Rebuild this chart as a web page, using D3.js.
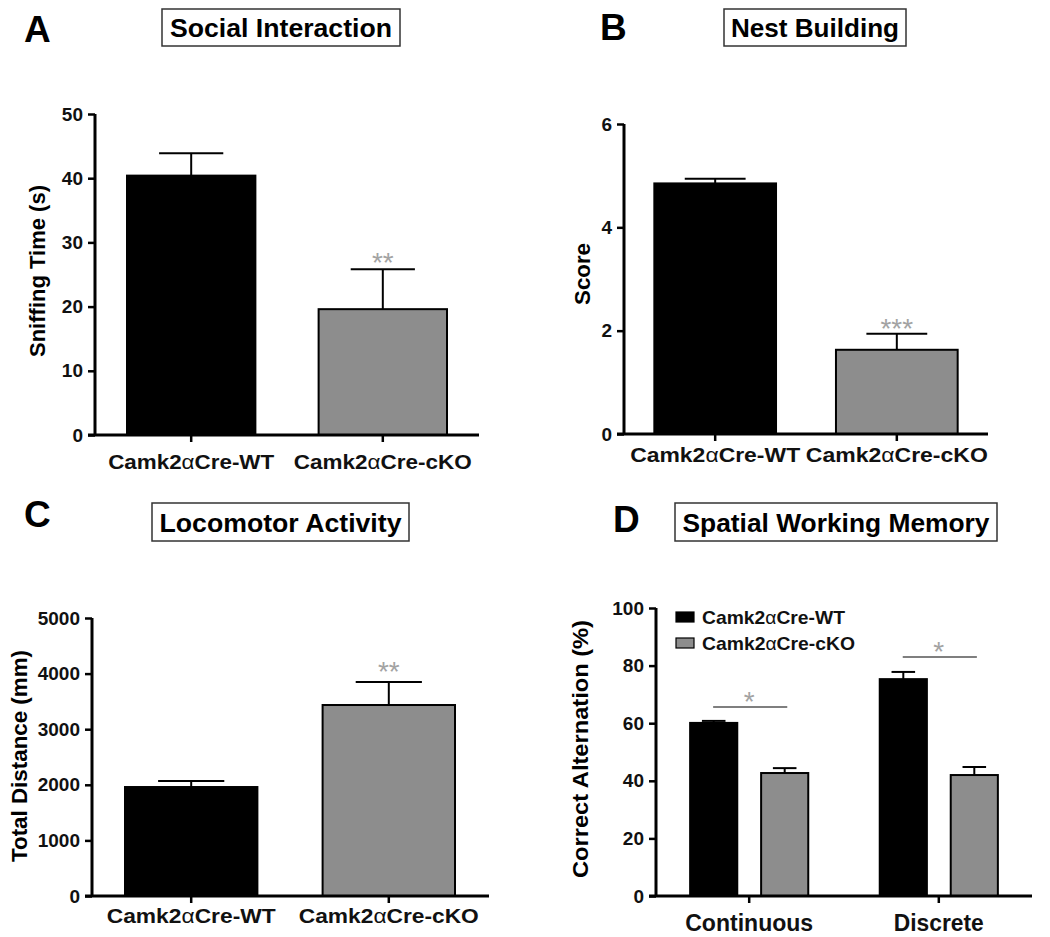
<!DOCTYPE html>
<html><head><meta charset="utf-8">
<script src="https://cdn.jsdelivr.net/npm/d3@7"></script>
<style>
html,body{margin:0;padding:0;background:#fff;}
svg{display:block;font-family:"Liberation Sans",Arial,sans-serif;}
</style></head>
<body>
<svg id="chart" width="1050" height="937"></svg>
<script>
// ---------- DATA ----------
const genotypes = ["Camk2αCre-WT", "Camk2αCre-cKO"];
const socialMean = [40.4, 19.6];
const socialSem  = [3.5, 6.2];
const socialStars = ["", "**"];
const socialTicks = [0, 10, 20, 30, 40, 50];

const nestMean = [4.85, 1.63];
const nestSem  = [0.09, 0.31];
const nestStars = ["", "***"];
const nestTicks = [0, 2, 4, 6];

const locoMean = [1960, 3435];
const locoSem  = [108, 414];
const locoStars = ["", "**"];
const locoTicks = [0, 1000, 2000, 3000, 4000, 5000];

const memCategories = ["Continuous", "Discrete"];
const memWTMean = [60.1, 75.3];
const memWTSem  = [0.7, 2.5];
const memKOMean = [42.7, 42.0];
const memKOSem  = [1.7, 2.8];
const memSigLevel = [65.6, 83];
const memStars = ["*", "*"];
const memTicks = [0, 20, 40, 60, 80, 100];

const fills = {"Camk2αCre-WT": "#000000", "Camk2αCre-cKO": "#8d8d8d"};

// ---------- HELPERS ----------
const svg = d3.select("#chart");
const FONT = "'Liberation Sans', Arial, sans-serif";

function genoText(sel, label) {
  const parts = label.split("α");
  sel.append("tspan").text(parts[0]);
  sel.append("tspan").attr("font-weight", "normal").text("α");
  sel.append("tspan").text(parts[1]);
}

function panelLetter(letter, x, y) {
  svg.append("text").attr("x", x).attr("y", y)
    .attr("font-size", 37).attr("font-weight", "bold").attr("fill", "#000")
    .text(letter);
}

function titleBox(text, x0, x1, y0, y1, tw) {
  svg.append("rect").attr("x", x0).attr("y", y0)
    .attr("width", x1 - x0).attr("height", y1 - y0)
    .attr("fill", "#fff").attr("stroke", "#333").attr("stroke-width", 1.5);
  svg.append("text").attr("x", (x0 + x1) / 2).attr("y", (y0 + y1) / 2 + 9.5)
    .attr("text-anchor", "middle").attr("font-size", 26).attr("font-weight", "bold")
    .attr("textLength", tw).attr("lengthAdjust", "spacingAndGlyphs")
    .text(text);
}

function yAxis(g, y, ticks) {
  const ax = d3.axisLeft(y).tickValues(ticks).tickSize(7).tickPadding(5).tickFormat(d3.format("d"));
  const a = g.append("g").call(ax);
  a.select(".domain").attr("stroke", "#000").attr("stroke-width", 3)
    .attr("d", `M0,${y.range()[0]}V${y.range()[1]}`);
  a.selectAll(".tick line").attr("stroke", "#000").attr("stroke-width", 2.5);
  a.selectAll(".tick text").attr("font-size", 19).attr("font-weight", "bold")
    .attr("font-family", FONT).attr("fill", "#111");
  return a;
}

function yLabel(text, cx, cy, len) {
  svg.append("text").attr("transform", `translate(${cx},${cy}) rotate(-90)`)
    .attr("text-anchor", "middle").attr("dy", "0.35em")
    .attr("font-size", 22).attr("font-weight", "bold")
    .attr("textLength", len).attr("lengthAdjust", "spacingAndGlyphs")
    .text(text);
}

function errorBar(g, xc, yTopVal, yBarVal, capHalf) {
  g.append("line").attr("x1", xc).attr("x2", xc)
    .attr("y1", yBarVal).attr("y2", yTopVal)
    .attr("stroke", "#000").attr("stroke-width", 2);
  g.append("line").attr("x1", xc - capHalf).attr("x2", xc + capHalf)
    .attr("y1", yTopVal).attr("y2", yTopVal)
    .attr("stroke", "#000").attr("stroke-width", 2);
}

function twoBarPanel(opt) {
  const g = svg.append("g");
  const x = d3.scaleBand().domain(genotypes).range([opt.x0, opt.x1])
    .paddingInner(0.33).paddingOuter(0.167);
  const y = d3.scaleLinear().domain([0, opt.max]).range([opt.yb, opt.yt]);

  genotypes.forEach((k, i) => {
    const bx = x(k), bw = x.bandwidth();
    const cx = bx + bw / 2;
    const top = y(opt.mean[i]);
    const errTop = y(opt.mean[i] + opt.sem[i]);
    errorBar(g, cx, errTop, top + 6, bw / 4);
    g.append("rect").attr("x", bx).attr("y", top)
      .attr("width", bw).attr("height", y(0) - top)
      .attr("fill", fills[k]).attr("stroke", "#000").attr("stroke-width", 2);
    if (opt.stars[i]) {
      g.append("text").attr("x", cx).attr("y", errTop + opt.starDy)
        .attr("text-anchor", "middle").attr("font-size", 28)
        .attr("fill", "#a3a3a3").text(opt.stars[i]);
    }
  });

  const ga = g.append("g").attr("transform", `translate(${opt.x0},0)`);
  yAxis(ga, y, opt.ticks);
  g.append("line").attr("x1", opt.x0 - 7).attr("x2", opt.xEnd)
    .attr("y1", y(0)).attr("y2", y(0))
    .attr("stroke", "#000").attr("stroke-width", 3);
  genotypes.forEach((k, i) => {
    const cx = x(k) + x.bandwidth() / 2;
    g.append("line").attr("x1", cx).attr("x2", cx)
      .attr("y1", y(0)).attr("y2", y(0) + 7)
      .attr("stroke", "#000").attr("stroke-width", 2.5);
    const t = g.append("text").attr("x", cx).attr("y", y(0) + opt.labDy)
      .attr("text-anchor", "middle").attr("font-size", 21).attr("font-weight", "bold")
      .attr("fill", "#111")
      .attr("textLength", opt.labLen[i]).attr("lengthAdjust", "spacingAndGlyphs");
    genoText(t, k);
  });
  yLabel(opt.ylab, opt.ylabX, opt.ylabY, opt.ylabLen);
}

// ---------- PANEL A ----------
panelLetter("A", 24, 42);
titleBox("Social Interaction", 162, 400, 9, 46, 222);
twoBarPanel({
  x0: 95, x1: 479, xEnd: 479, yb: 435, yt: 114, max: 50,
  mean: socialMean, sem: socialSem, stars: socialStars, ticks: socialTicks,
  starDy: 3, labDy: 34, labLen: [166, 178],
  ylab: "Sniffing Time (s)", ylabX: 37, ylabY: 271, ylabLen: 172
});

// ---------- PANEL B ----------
panelLetter("B", 600, 40);
titleBox("Nest Building", 724, 906, 9, 46, 168);
twoBarPanel({
  x0: 624, x1: 988, xEnd: 988, yb: 434, yt: 124, max: 6,
  mean: nestMean, sem: nestSem, stars: nestStars, ticks: nestTicks,
  starDy: 4, labDy: 28, labLen: [170, 182],
  ylab: "Score", ylabX: 582, ylabY: 274, ylabLen: 62
});

// ---------- PANEL C ----------
panelLetter("C", 24, 527);
titleBox("Locomotor Activity", 152, 409, 503, 541, 242);
twoBarPanel({
  x0: 92, x1: 488, xEnd: 489, yb: 896, yt: 618, max: 5000,
  mean: locoMean, sem: locoSem, stars: locoStars, ticks: locoTicks,
  starDy: -1, labDy: 27, labLen: [169, 180],
  ylab: "Total Distance (mm)", ylabX: 19, ylabY: 756, ylabLen: 212
});

// ---------- PANEL D ----------
panelLetter("D", 613, 532);
titleBox("Spatial Working Memory", 675, 997, 503, 541, 307);
(function () {
  const g = svg.append("g");
  const x0 = d3.scaleBand().domain(memCategories).range([656, 1032])
    .paddingInner(0.377).paddingOuter(0.18);
  const x1 = d3.scaleBand().domain(genotypes).range([0, x0.bandwidth()]).paddingInner(0.336);
  const y = d3.scaleLinear().domain([0, 100]).range([896, 608]);
  const means = {"Camk2αCre-WT": memWTMean, "Camk2αCre-cKO": memKOMean};
  const sems = {"Camk2αCre-WT": memWTSem, "Camk2αCre-cKO": memKOSem};

  memCategories.forEach((c, ci) => {
    genotypes.forEach(k => {
      const bx = x0(c) + x1(k), bw = x1.bandwidth();
      const cx = bx + bw / 2;
      const top = y(means[k][ci]);
      const errTop = y(means[k][ci] + sems[k][ci]);
      errorBar(g, cx, errTop, top + 4, bw / 4);
      g.append("rect").attr("x", bx).attr("y", top)
        .attr("width", bw).attr("height", y(0) - top)
        .attr("fill", fills[k]).attr("stroke", "#000").attr("stroke-width", 2);
    });
    const gx = x0(c), gw = x0.bandwidth();
    const sy = y(memSigLevel[ci]);
    g.append("line").attr("x1", gx + 23).attr("x2", gx + gw - 21)
      .attr("y1", sy).attr("y2", sy).attr("stroke", "#555").attr("stroke-width", 1.5);
    g.append("text").attr("x", gx + gw / 2).attr("y", sy + 4)
      .attr("text-anchor", "middle").attr("font-size", 28).attr("fill", "#a3a3a3")
      .text(memStars[ci]);
  });

  const ga = g.append("g").attr("transform", "translate(656,0)");
  yAxis(ga, y, memTicks);
  g.append("line").attr("x1", 649).attr("x2", 1032)
    .attr("y1", y(0)).attr("y2", y(0)).attr("stroke", "#000").attr("stroke-width", 3);
  const catLen = [128, 90];
  memCategories.forEach((c, ci) => {
    const cx = x0(c) + x0.bandwidth() / 2;
    g.append("line").attr("x1", cx).attr("x2", cx).attr("y1", y(0)).attr("y2", y(0) + 7)
      .attr("stroke", "#000").attr("stroke-width", 2.5);
    g.append("text").attr("x", cx).attr("y", y(0) + 35)
      .attr("text-anchor", "middle").attr("font-size", 23).attr("font-weight", "bold")
      .attr("fill", "#111")
      .attr("textLength", catLen[ci]).attr("lengthAdjust", "spacingAndGlyphs")
      .text(c);
  });
  yLabel("Correct Alternation (%)", 580, 749, 258);

  const legY = [617, 643];
  genotypes.forEach((k, i) => {
    g.append("rect").attr("x", 676).attr("y", legY[i] - 5).attr("width", 18).attr("height", 10)
      .attr("fill", fills[k]).attr("stroke", "#000").attr("stroke-width", 1.2);
    const t = g.append("text").attr("x", 702).attr("y", legY[i] + 7)
      .attr("font-size", 19).attr("font-weight", "bold").attr("fill", "#111")
      .attr("textLength", i === 0 ? 143 : 153).attr("lengthAdjust", "spacingAndGlyphs");
    genoText(t, k);
  });
})();
</script>
</body></html>
